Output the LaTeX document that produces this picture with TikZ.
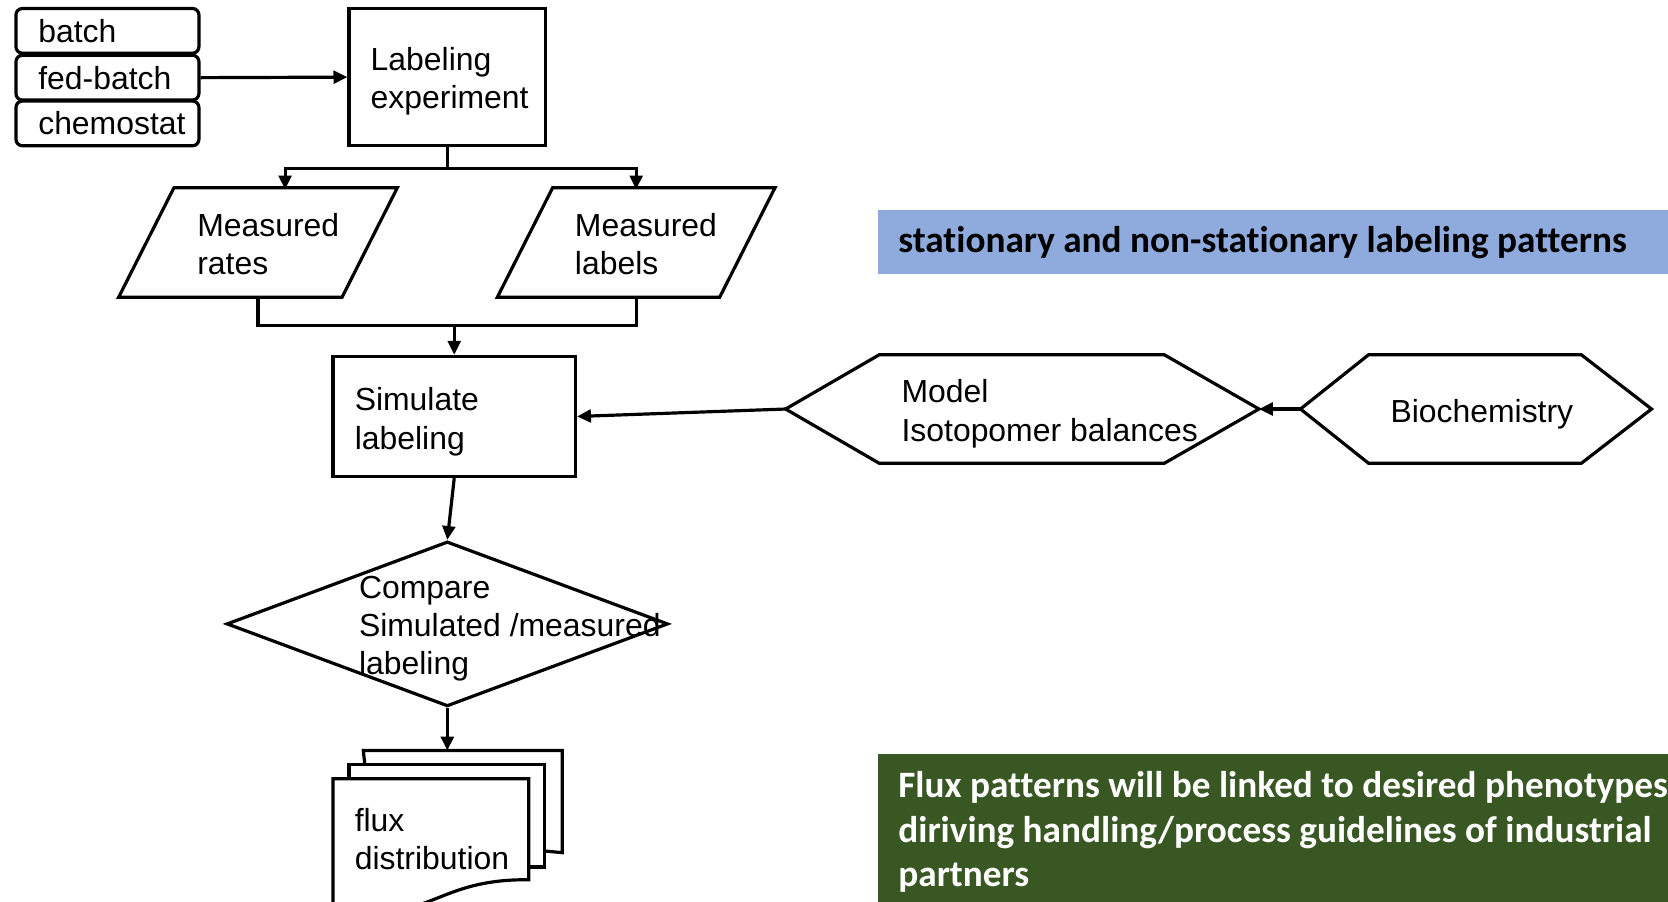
\documentclass[tikz,border=0pt]{standalone}
\usepackage{fontspec}
\setmainfont{Liberation Sans}
\newfontfamily\boxfont[Ligatures={NoCommon}]{Carlito}
\usetikzlibrary{shapes.geometric,calc,arrows.meta}
\definecolor{bandblue}{HTML}{8FAADC}
\definecolor{banddark}{HTML}{385723}

\begin{document}
\begin{tikzpicture}[x=1pt,y=-1pt,
  line width=3pt, line join=miter,
  txt/.style={font=\fontsize{30}{36}\selectfont, align=left, inner sep=0pt},
  frame/.style={rectangle, inner sep=0pt},
  procbox/.style={draw, rectangle, inner sep=0pt},
  modebox/.style={draw, rectangle, rounded corners=6pt, inner sep=0pt,
    minimum width=172pt, minimum height=42pt, text width=130pt,
    font=\fontsize{30}{36}\selectfont, align=left},
  arr/.style={-{Triangle[length=13pt,width=12pt]}},
  band/.style={rectangle, inner sep=0pt, anchor=north west, minimum width=744pt},
  bandtxt/.style={font=\boxfont\bfseries\fontsize{35}{42}\selectfont, align=left, inner sep=0pt, anchor=west}
]
\useasboundingbox (0,0) rectangle (1568,847);

% cultivation modes
\node[modebox] (batch) at (101,29) {batch};
\node[modebox] (fed) at (101,73) {fed-batch};
\node[modebox] (chemo) at (101,116) {chemostat};

% labeling experiment
\node[procbox, minimum width=185pt, minimum height=129pt] (lab) at (420.5,72.5) {};
\node[txt, anchor=west] (labT) at (347,76.5) {Labeling\\experiment};
\draw[arr] (fed.east) -- (lab.west);

% measured data (parallelograms)
\node[frame, minimum width=259pt, minimum height=100pt] (rates) at (242.5,228) {};
\draw ($(rates.north west)+(52,0)$) -- (rates.north east) -- ($(rates.south east)+(-52,0)$) -- (rates.south west) -- cycle;
\node[txt, anchor=west] (ratesT) at (184,229.5) {Measured\\rates};

\node[frame, minimum width=258pt, minimum height=100pt] (labels) at (598,228) {};
\draw ($(labels.north west)+(52,0)$) -- (labels.north east) -- ($(labels.south east)+(-52,0)$) -- (labels.south west) -- cycle;
\node[txt, anchor=west] (labelsT) at (539,229.5) {Measured\\labels};

\coordinate (ratesin) at (268,178);
\coordinate (labelsin) at (598,178);
\draw[arr] (lab.south) -- ++(0,20) -| (ratesin);
\draw[arr] (lab.south) -- ++(0,20) -| (labelsin);

% simulation
\node[procbox, minimum width=228pt, minimum height=113pt] (sim) at (427,391.5) {};
\node[txt, anchor=west] (simT) at (332,396.5) {Simulate\\labeling};
\coordinate (merge) at (427,306);
\draw (rates.south) |- (merge);
\draw (labels.south) |- (merge);
\draw[arr] (merge) -- (sim.north);

% model hexagons
\node[frame, minimum width=442pt, minimum height=99pt] (model) at (961,384.5) {};
\draw (model.west) -- ($(model.north west)+(88,0)$) -- ($(model.north east)+(-89,0)$) -- (model.east)
  -- ($(model.south east)+(-89,0)$) -- ($(model.south west)+(88,0)$) -- cycle;
\node[txt, anchor=west] (modelT) at (846,389) {Model\\Isotopomer balances};

\node[frame, minimum width=327pt, minimum height=99pt] (bio) at (1387.5,384.5) {};
\draw (bio.west) -- ($(bio.north west)+(64,0)$) -- ($(bio.north east)+(-66,0)$) -- (bio.east)
  -- ($(bio.south east)+(-66,0)$) -- ($(bio.south west)+(64,0)$) -- cycle;
\node[txt] (bioT) at (1393,389) {Biochemistry};

\draw[arr] (bio.west) -- (model.east);
\draw[arr] (model.west) -- (sim.east);

% comparison
\node[draw, diamond, inner sep=0pt, minimum width=415pt, minimum height=155pt] (cmp) at (420.5,586.5) {};
\node[txt, anchor=west] (cmpT) at (336,591) {Compare\\Simulated /measured\\labeling};
\draw[arr] (sim.south) -- (cmp.north);

% flux distribution (document stack)
\node[frame, minimum width=184pt, minimum height=93pt] (docback) at (435,753.5) {};
\draw (343,719) -- (docback.north west) -- (docback.north east) -- (docback.south east) -- (512,800);
\draw (328,732) -- (328,719) -- (512,719) -- (512,815) -- (497,815);
\draw (313,852) -- (313,732) -- (497,732) -- (497,827) .. controls (405,826) and (405,872) .. (313,852) -- cycle;
\node[txt, anchor=west] (doc) at (332,789) {flux\\distribution};
\draw[arr] (cmp.south) -- (cmp.south |- docback.north);

% coloured notes
\node[band, fill=bandblue, minimum height=60pt] (noteA) at (824,196) {};
\node[bandtxt] (noteAT) at (843,228) {stationary and non-stationary labeling patterns};
\node[band, fill=banddark, minimum height=160pt] (noteB) at (824,707) {};
\node[bandtxt, text=white] (noteBT) at (843,782) {Flux patterns will be linked to desired phenotypes\\diriving handling/process guidelines of industrial\\partners};
\end{tikzpicture}
\end{document}
